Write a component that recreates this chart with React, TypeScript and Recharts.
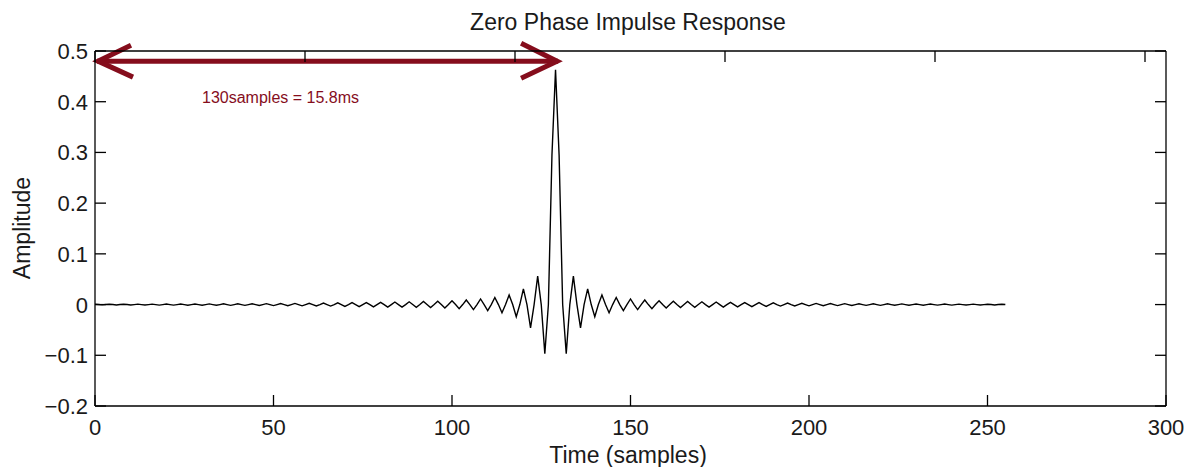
import React from 'react';
import { LineChart, Line, XAxis, YAxis, ReferenceLine } from 'recharts';

// sample index 0..255, peak at 129 (zero phase half-band style response)
const amplitude = [
  0.0005, 0, -0.0006, 0, 0.0006, 0, -0.0007, 0,
  0.0007, 0, -0.0008, 0, 0.0008, 0, -0.0009, 0,
  0.0009, 0, -0.001, 0, 0.001, 0, -0.0011, 0,
  0.0011, 0, -0.0012, 0, 0.0012, 0, -0.0013, 0,
  0.0013, 0, -0.0014, 0, 0.0015, 0, -0.0015, 0,
  0.0016, 0, -0.0016, 0, 0.0017, 0, -0.0018, 0,
  0.0019, 0, -0.002, 0, 0.002, 0, -0.0022, 0,
  0.0023, 0, -0.0025, 0, 0.0026, 0, -0.0028, 0,
  0.003, 0, -0.003, 0, 0.0033, 0, -0.0035, 0,
  0.0038, 0, -0.004, 0, 0.004, 0, -0.0045, 0,
  0.0045, 0, -0.005, 0, 0.005, 0, -0.005, 0,
  0.0055, 0, -0.0055, 0, 0.006, 0, -0.006, 0,
  0.0065, 0, -0.007, 0, 0.0075, 0, -0.008, 0,
  0.009, 0, -0.01, 0, 0.011, 0, -0.012, 0,
  0.014, 0, -0.016, 0, 0.019, 0, -0.024, 0,
  0.031, 0, -0.046, 0, 0.056, 0, -0.097, 0,
  0.295, 0.463, 0.295, 0, -0.097, 0, 0.056, 0,
  -0.046, 0, 0.031, 0, -0.024, 0, 0.019, 0,
  -0.016, 0, 0.014, 0, -0.012, 0, 0.011, 0,
  -0.01, 0, 0.009, 0, -0.008, 0, 0.0075, 0,
  -0.007, 0, 0.0065, 0, -0.006, 0, 0.006, 0,
  -0.0055, 0, 0.0055, 0, -0.005, 0, 0.005, 0,
  -0.005, 0, 0.0045, 0, -0.0045, 0, 0.004, 0,
  -0.004, 0, 0.0038, 0, -0.0035, 0, 0.0033, 0,
  -0.003, 0, 0.003, 0, -0.0028, 0, 0.0026, 0,
  -0.0025, 0, 0.0023, 0, -0.0022, 0, 0.002, 0,
  -0.002, 0, 0.0019, 0, -0.0018, 0, 0.0017, 0,
  -0.0016, 0, 0.0016, 0, -0.0015, 0, 0.0015, 0,
  -0.0014, 0, 0.0013, 0, -0.0013, 0, 0.0012, 0,
  -0.0012, 0, 0.0011, 0, -0.0011, 0, 0.001, 0,
  -0.001, 0, 0.0009, 0, -0.0009, 0, 0.0008, 0,
  -0.0008, 0, 0.0007, 0, -0.0007, 0, 0.0006, 0,
];

const xTicks = [0, 50, 100, 150, 200, 250, 300];
const yTicks = [-0.2, -0.1, 0, 0.1, 0.2, 0.3, 0.4, 0.5];

// annotation: arrow from sample 0 to sample 130
const spanStart = 0;
const spanEnd = 130;
const spanLevel = 0.48;
const spanText = '130samples = 15.8ms';

const data = amplitude.map((v, i) => ({ t: i, v }));

const FONT = '"Liberation Sans", Arial, Helvetica, sans-serif';
const INK = '#1a1a1a';
const RED = '#850d1c';
const TICK_LEN = 11;

const fmtY = (v: number) => (v === 0 ? '0' : v < 0 ? `\u2212${Math.abs(v)}` : `${v}`);

const BottomTick = ({ x, y, payload }: any) => (
  <g>
    <line x1={x} x2={x} y1={y} y2={y - TICK_LEN} stroke="#000" strokeWidth={1.3} />
    <text x={x} y={y + 29} textAnchor="middle" fill={INK} fontSize={22} fontFamily={FONT}>
      {payload.value}
    </text>
  </g>
);

const TopTick = ({ x, y }: any) => (
  <line x1={x} x2={x} y1={y} y2={y + TICK_LEN} stroke="#000" strokeWidth={1.3} />
);

const LeftTick = ({ x, y, payload }: any) => (
  <g>
    <line x1={x} x2={x + TICK_LEN} y1={y} y2={y} stroke="#000" strokeWidth={1.3} />
    <text x={x - 7} y={y + 8} textAnchor="end" fill={INK} fontSize={22} fontFamily={FONT}>
      {fmtY(payload.value)}
    </text>
  </g>
);

const RightTick = ({ x, y }: any) => (
  <line x1={x} x2={x - TICK_LEN} y1={y} y2={y} stroke="#000" strokeWidth={1.3} />
);

const SpanArrow = (p: any) => {
  const { x1, y1, x2, y2 } = p;
  return (
    <g>
      <g stroke={RED} strokeWidth={5} fill="none">
        <line x1={x1 + 2} y1={y1} x2={x2 - 1} y2={y2} />
        <polyline points={`${x1 + 36},${y1 - 16} ${x1 + 3},${y1} ${x1 + 38},${y1 + 16}`} />
        <polyline points={`${x2 - 38},${y2 - 18} ${x2 - 2},${y2} ${x2 - 38},${y2 + 17}`} />
      </g>
      <text x={x1 + 107} y={y1 + 42} fill={RED} fontSize={16} fontFamily={FONT}>
        {spanText}
      </text>
    </g>
  );
};

const textStyle: React.CSSProperties = {
  position: 'absolute',
  fontFamily: FONT,
  color: INK,
  whiteSpace: 'nowrap',
  lineHeight: 1,
};

export default function App() {
  return (
    <div style={{ position: 'absolute', left: 0, top: 0, width: 1188, height: 467, background: '#fff' }}>
      <div style={{ ...textStyle, fontSize: 23, left: 0, width: 1256, top: 11, textAlign: 'center' }}>
        Zero Phase Impulse Response
      </div>
      <div style={{ ...textStyle, fontSize: 23, left: 0, width: 1256, top: 444, textAlign: 'center' }}>
        Time (samples)
      </div>
      <div
        style={{
          ...textStyle,
          fontSize: 23,
          left: 22,
          top: 228,
          transform: 'translate(-50%, -50%) rotate(-90deg)',
        }}
      >
        Amplitude
      </div>
      <LineChart
        width={1188}
        height={467}
        data={data}
        margin={{ top: 50, right: 21, bottom: 21, left: 25 }}
      >
        <XAxis
          dataKey="t"
          type="number"
          domain={[0, 300]}
          ticks={xTicks}
          allowDataOverflow
          height={40}
          tickSize={0}
          tickMargin={0}
          tickLine={false}
          axisLine={{ stroke: '#000', strokeWidth: 1.3 }}
          tick={<BottomTick />}
          interval={0}
        />
        <XAxis
          xAxisId="top"
          orientation="top"
          type="number"
          domain={[0, 300]}
          ticks={xTicks}
          allowDataOverflow
          height={1}
          tickSize={0}
          tickMargin={0}
          tickLine={false}
          axisLine={{ stroke: '#000', strokeWidth: 1.3 }}
          tick={<TopTick />}
          interval={0}
        />
        <YAxis
          type="number"
          domain={[-0.2, 0.5]}
          ticks={yTicks}
          allowDataOverflow
          width={70}
          tickSize={0}
          tickMargin={0}
          tickLine={false}
          axisLine={{ stroke: '#000', strokeWidth: 1.3 }}
          tick={<LeftTick />}
          interval={0}
        />
        <YAxis
          yAxisId="right"
          orientation="right"
          type="number"
          domain={[-0.2, 0.5]}
          ticks={yTicks}
          allowDataOverflow
          width={1}
          tickSize={0}
          tickMargin={0}
          tickLine={false}
          axisLine={{ stroke: '#000', strokeWidth: 1.3 }}
          tick={<RightTick />}
          interval={0}
        />
        <Line
          type="linear"
          dataKey="v"
          stroke="#000"
          strokeWidth={1.4}
          dot={false}
          isAnimationActive={false}
        />
        <ReferenceLine
          segment={[
            { x: spanStart, y: spanLevel },
            { x: spanEnd, y: spanLevel },
          ]}
          shape={SpanArrow}
          ifOverflow="visible"
        />
      </LineChart>
    </div>
  );
}
